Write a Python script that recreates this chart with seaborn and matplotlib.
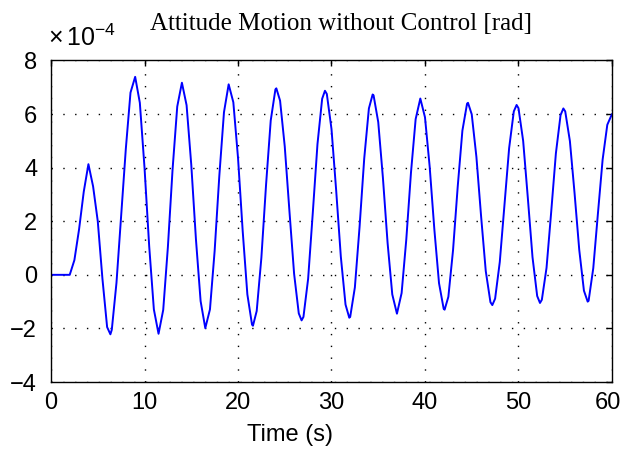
import numpy as np
import matplotlib
matplotlib.use("Agg")
import matplotlib.pyplot as plt
import matplotlib.transforms as mtransforms
import seaborn as sns

# time (s) and attitude angle (x 1e-4 rad)
time_s = [
    0, 0.5, 1, 1.5, 2, 2.5, 3, 3.5, 4, 4.5, 5, 5.5, 6, 6.35, 6.5, 7, 7.5, 8, 8.5, 9,
    9.5, 10, 10.5, 11, 11.5, 12, 12.5, 13, 13.5, 14, 14.5, 15, 15.5, 16, 16.5, 17,
    17.5, 18, 18.5, 19, 19.5, 20, 20.5, 21, 21.5, 21.6, 22, 22.5, 23, 23.5, 24, 24.1,
    24.5, 25, 25.5, 26, 26.5, 26.8, 27, 27.5, 28, 28.5, 29, 29.3, 29.5, 30, 30.5, 31,
    31.5, 31.9, 32, 32.5, 33, 33.5, 34, 34.4, 34.5, 35, 35.5, 36, 36.5, 37, 37.5, 38,
    38.5, 39, 39.5, 40, 40.5, 41, 41.5, 42, 42.1, 42.5, 43, 43.5, 44, 44.5, 44.6, 45,
    45.5, 46, 46.5, 47, 47.2, 47.5, 48, 48.5, 49, 49.5, 49.8, 50, 50.5, 51, 51.5, 52,
    52.3, 52.5, 53, 53.5, 54, 54.5, 54.8, 55, 55.5, 56, 56.5, 57, 57.4, 57.5, 58, 58.5,
    59, 59.5, 60,
]
attitude = [
    0.00, 0.00, 0.00, 0.00, 0.00, 0.55, 1.70, 3.10, 4.13, 3.30, 2.00, -0.15, -1.95, -2.22, -2.05, -0.30, 2.20, 4.70, 6.80, 7.39,
    6.42, 4.00, 1.07, -1.29, -2.20, -1.31, 1.04, 3.93, 6.28, 7.17, 6.33, 4.11, 1.33, -0.98, -1.99, -1.29,
    0.89, 3.69, 6.07, 7.11, 6.44, 4.37, 1.64, -0.73, -1.86, -1.90, -1.35, 0.64, 3.36, 5.76, 6.92, 6.96,
    6.50, 4.79, 2.38, 0.04, -1.44, -1.70, -1.57, -0.15, 2.32, 4.88, 6.57, 6.87, 6.75, 5.44, 3.15, 0.67,
    -1.11, -1.60, -1.57, -0.47, 1.78, 4.34, 6.21, 6.73, 6.70, 5.70, 3.62, 1.19, -0.73, -1.45, -0.68, 1.32,
    3.81, 5.81, 6.58, 5.88, 4.04, 1.70, -0.31, -1.27, -1.30, -0.82, 0.92, 3.29, 5.38, 6.39, 6.42, 5.99,
    4.40, 2.19, 0.14, -1.02, -1.13, -0.89, 0.48, 2.61, 4.73, 6.10, 6.34, 6.22, 5.00, 2.87, 0.66, -0.79,
    -1.05, -0.93, 0.26, 2.35, 4.53, 5.96, 6.21, 6.10, 4.99, 3.04, 0.93, -0.59, -1.00, -0.97, 0.25, 2.30,
    4.30, 5.60, 6.00,
]
x_ticks = [0, 10, 20, 30, 40, 50, 60]
y_ticks = [-4, -2, 0, 2, 4, 6, 8]

sns.set_theme(style="white")
plt.rcParams['font.family'] = ['Liberation Sans', 'DejaVu Sans']
plt.rcParams['mathtext.fontset'] = 'custom'
plt.rcParams['mathtext.rm'] = 'Liberation Sans'

fig = plt.figure(figsize=(6.23, 4.5), dpi=100)
fig.patch.set_facecolor('white')
ax = fig.add_axes([0.0819, 0.1511, 0.9004, 0.7145])
ax.set_facecolor('white')

sns.lineplot(x=np.array(time_s), y=np.array(attitude), ax=ax,
             color='#0000ff', linewidth=1.4)

ax.set_xlim(0, 60)
ax.set_ylim(-4, 8)
ax.set_xticks(x_ticks)
ax.set_yticks(y_ticks)
ax.set_yticklabels([str(v).replace('-', '\u2212') for v in y_ticks])

# matlab-ish box, inward ticks, dotted grid
for sp in ax.spines.values():
    sp.set_visible(True)
    sp.set_color('black')
    sp.set_linewidth(1.0)
ax.tick_params(direction='in', length=4, width=1.0, colors='black',
               top=True, right=True, labelsize=17)
ax.tick_params(axis='y', pad=10)
ax.tick_params(axis='x', pad=7)
ax.grid(True, color='black', linestyle=(0, (1, 7.5)), linewidth=1.0)

# last x label sits right at the figure edge, nudge it in a little
last = ax.get_xticklabels()[-1]
last.set_transform(last.get_transform() +
                   mtransforms.ScaledTranslation(-4 / 100, 0, fig.dpi_scale_trans))

ax.set_xlabel('Time (s)', fontsize=17, color='black')
ax.xaxis.set_label_coords(0.426, -0.13)
ax.set_ylabel('')

ax.text(0.517, 1.095, 'Attitude Motion without Control [rad]',
        transform=ax.transAxes, ha='center', va='baseline',
        fontsize=18, family='Liberation Serif', color='black')
ax.text(-0.005, 1.045, r'$\times\,10^{-4}$', transform=ax.transAxes,
        ha='left', va='baseline', fontsize=18, color='black')

fig.savefig('out.png', dpi=100)
